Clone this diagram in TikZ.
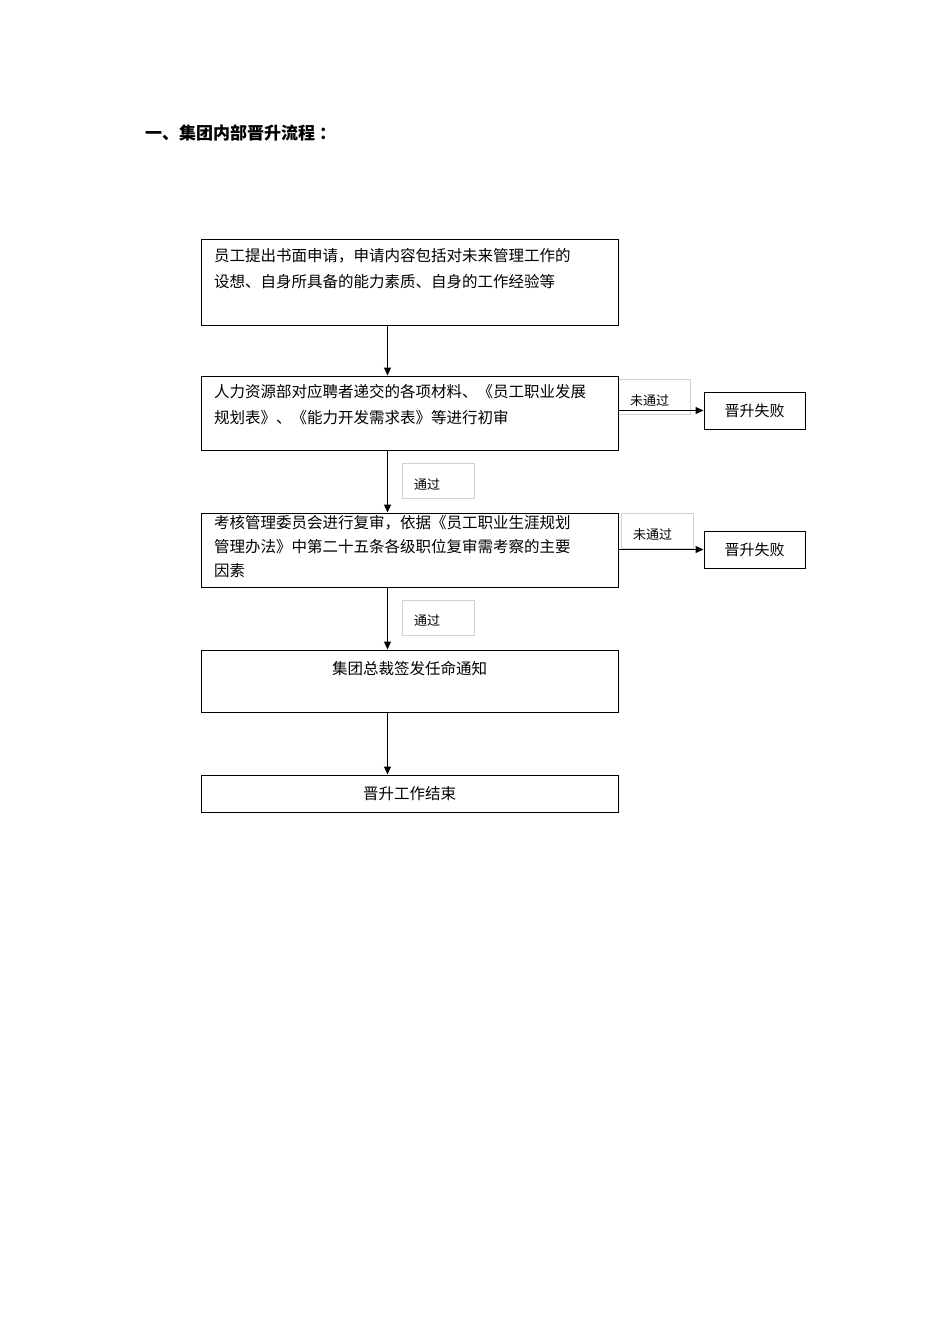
\documentclass[tikz,border=0pt]{standalone}
\usepackage{fontspec}
\setmainfont{Noto Sans CJK SC}
\newfontfamily\cjk{Noto Sans CJK SC}
\usetikzlibrary{calc,arrows.meta}
\begin{document}
\begin{tikzpicture}[x=1pt,y=-1pt,
  box/.style={draw,line width=1pt,inner sep=0pt},
  failbox/.style={draw,line width=1pt,inner sep=0pt,minimum width=101pt,minimum height=37pt,font=\fontsize{15}{18}\selectfont},
  lbl/.style={draw=black!18,line width=0.5pt,inner sep=0pt,minimum width=72pt,minimum height=35pt},
  lbltxt/.style={font=\fontsize{13}{15}\selectfont,inner sep=0pt},
  txt/.style={font=\fontsize{15.5}{26}\selectfont,inner sep=0pt,anchor=north west,align=left},
  arr/.style={line width=1.2pt,-{Triangle[length=8pt,width=7pt]}}]
\useasboundingbox (0,0) rectangle (950,1344);
\node[font=\bfseries\fontsize{17}{20}\selectfont,anchor=west,inner sep=0pt] (title) at (145,133) {一、集团内部晋升流程 ：};
% label boxes (behind)
\node[lbl] (l1) at (654,397) {};
\node[lbltxt,anchor=west] (l1t) at (630,401) {未通过};
\node[lbl] (l2) at (438,481) {};
\node[lbltxt,anchor=west] (l2t) at (414,485) {通过};
\node[lbl] (l3) at (657,531) {};
\node[lbltxt,anchor=west] (l3t) at (633,535) {未通过};
\node[lbl] (l4) at (438,618) {};
\node[lbltxt,anchor=west] (l4t) at (414,621) {通过};
% main boxes
\node[box,minimum width=417pt,minimum height=86pt] (b1) at (409.5,282) {};
\node[txt] (t1) at (214,248) {员工提出书面申请，申请内容包括对未来管理工作的\\设想、自身所具备的能力素质、自身的工作经验等};
\node[box,minimum width=417pt,minimum height=74pt] (b2) at (409.5,413) {};
\node[txt] (t2) at (214,384) {人力资源部对应聘者递交的各项材料、《员工职业发展\\规划表》、《能力开发需求表》等进行初审};
\node[box,minimum width=417pt,minimum height=74pt] (b3) at (409.5,550) {};
\node[txt,font=\fontsize{15.5}{24}\selectfont] (t3) at (214,515) {考核管理委员会进行复审，依据《员工职业生涯规划\\管理办法》中第二十五条各级职位复审需考察的主要\\因素};
\node[box,minimum width=417pt,minimum height=62pt] (b4) at (409.5,681) {};
\node[font=\fontsize{15.5}{18}\selectfont,inner sep=0pt] (t4) at (409.5,669) {集团总裁签发任命通知};
\node[box,minimum width=417pt,minimum height=37pt] (b5) at (409.5,793.5) {};
\node[font=\fontsize{15.5}{18}\selectfont,inner sep=0pt] (t5) at (409.5,794) {晋升工作结束};
\node[failbox] (f1) at (754.5,410.5) {晋升失败};
\node[failbox] (f2) at (754.5,549.5) {晋升失败};
% arrows
\draw[arr] ($(b1.south west)+(187,0)$) -- ($(b2.north west)+(187,0)$);
\draw[arr] ($(b2.south west)+(187,0)$) -- ($(b3.north west)+(187,0)$);
\draw[arr] ($(b3.south west)+(187,0)$) -- ($(b4.north west)+(187,0)$);
\draw[arr] ($(b4.south west)+(187,0)$) -- ($(b5.north west)+(187,0)$);
\draw[arr] (b2.east |- f1.west) -- (f1.west);
\draw[arr] (b3.east |- f2.west) -- (f2.west);
\end{tikzpicture}
\end{document}
